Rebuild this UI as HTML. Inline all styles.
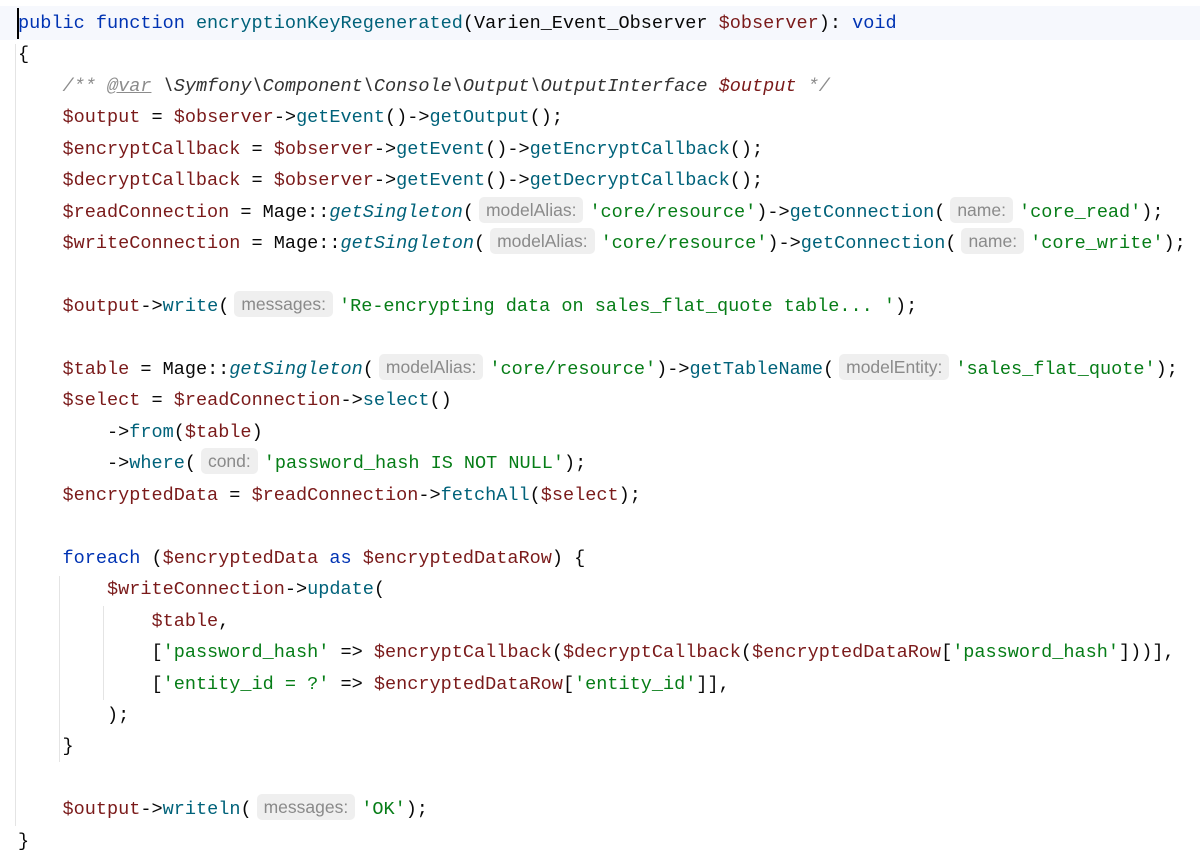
<!DOCTYPE html>
<html><head><meta charset="utf-8"><style>
html,body{margin:0;padding:0;background:#fff;width:1200px;height:865px;overflow:hidden}
.hl{position:absolute;left:0;top:6px;width:1200px;height:34px;background:#f6f8fd}
.cur{position:absolute;left:17px;top:8px;width:2px;height:31px;background:#000}
.g{position:absolute;width:1px;background:#e4e4e4}
pre{position:absolute;left:18px;top:8px;margin:0;font-family:"Liberation Mono",monospace;font-size:18.55px;line-height:31.46px;color:#080808;white-space:pre}
.k{color:#0033b3}.v{color:#7a1a1a}.m{color:#00627a}.s{color:#067d17}.c{color:#8c8c8c;font-style:italic}
.i{font-style:italic}
.h{display:inline-block;font-family:"Liberation Sans",sans-serif;font-size:17.5px;color:#8a8a8a;background:#efefef;border-radius:5px;padding:0 7px;line-height:26px;margin:0 6px 0 5px;vertical-align:1px}
</style></head><body>
<div class="hl"></div>
<div class="g" style="left:15px;top:44px;height:782px"></div>
<div class="g" style="left:59px;top:576px;height:186px"></div>
<div class="g" style="left:103px;top:606px;height:94px"></div>
<pre><span class="k">public function</span> <span class="m">encryptionKeyRegenerated</span>(Varien_Event_Observer <span class="v">$observer</span>): <span class="k">void</span>
{
    <span class="c">/** <u>@var</u> </span><span class="i" style="color:#333">\Symfony\Component\Console\Output\OutputInterface</span> <span class="v i">$output</span><span class="c"> */</span>
    <span class="v">$output</span> = <span class="v">$observer</span>-&gt;<span class="m">getEvent</span>()-&gt;<span class="m">getOutput</span>();
    <span class="v">$encryptCallback</span> = <span class="v">$observer</span>-&gt;<span class="m">getEvent</span>()-&gt;<span class="m">getEncryptCallback</span>();
    <span class="v">$decryptCallback</span> = <span class="v">$observer</span>-&gt;<span class="m">getEvent</span>()-&gt;<span class="m">getDecryptCallback</span>();
    <span class="v">$readConnection</span> = Mage::<span class="m i">getSingleton</span>(<span class="h">modelAlias:</span><span class="s">'core/resource'</span>)-&gt;<span class="m">getConnection</span>(<span class="h">name:</span><span class="s">'core_read'</span>);
    <span class="v">$writeConnection</span> = Mage::<span class="m i">getSingleton</span>(<span class="h">modelAlias:</span><span class="s">'core/resource'</span>)-&gt;<span class="m">getConnection</span>(<span class="h">name:</span><span class="s">'core_write'</span>);

    <span class="v">$output</span>-&gt;<span class="m">write</span>(<span class="h">messages:</span><span class="s">'Re-encrypting data on sales_flat_quote table... '</span>);

    <span class="v">$table</span> = Mage::<span class="m i">getSingleton</span>(<span class="h">modelAlias:</span><span class="s">'core/resource'</span>)-&gt;<span class="m">getTableName</span>(<span class="h">modelEntity:</span><span class="s">'sales_flat_quote'</span>);
    <span class="v">$select</span> = <span class="v">$readConnection</span>-&gt;<span class="m">select</span>()
        -&gt;<span class="m">from</span>(<span class="v">$table</span>)
        -&gt;<span class="m">where</span>(<span class="h">cond:</span><span class="s">'password_hash IS NOT NULL'</span>);
    <span class="v">$encryptedData</span> = <span class="v">$readConnection</span>-&gt;<span class="m">fetchAll</span>(<span class="v">$select</span>);

    <span class="k">foreach</span> (<span class="v">$encryptedData</span> <span class="k">as</span> <span class="v">$encryptedDataRow</span>) {
        <span class="v">$writeConnection</span>-&gt;<span class="m">update</span>(
            <span class="v">$table</span>,
            [<span class="s">'password_hash'</span> =&gt; <span class="v">$encryptCallback</span>(<span class="v">$decryptCallback</span>(<span class="v">$encryptedDataRow</span>[<span class="s">'password_hash'</span>]))],
            [<span class="s">'entity_id = ?'</span> =&gt; <span class="v">$encryptedDataRow</span>[<span class="s">'entity_id'</span>]],
        );
    }

    <span class="v">$output</span>-&gt;<span class="m">writeln</span>(<span class="h">messages:</span><span class="s">'OK'</span>);
}</pre>
<div class="cur"></div>
</body></html>
